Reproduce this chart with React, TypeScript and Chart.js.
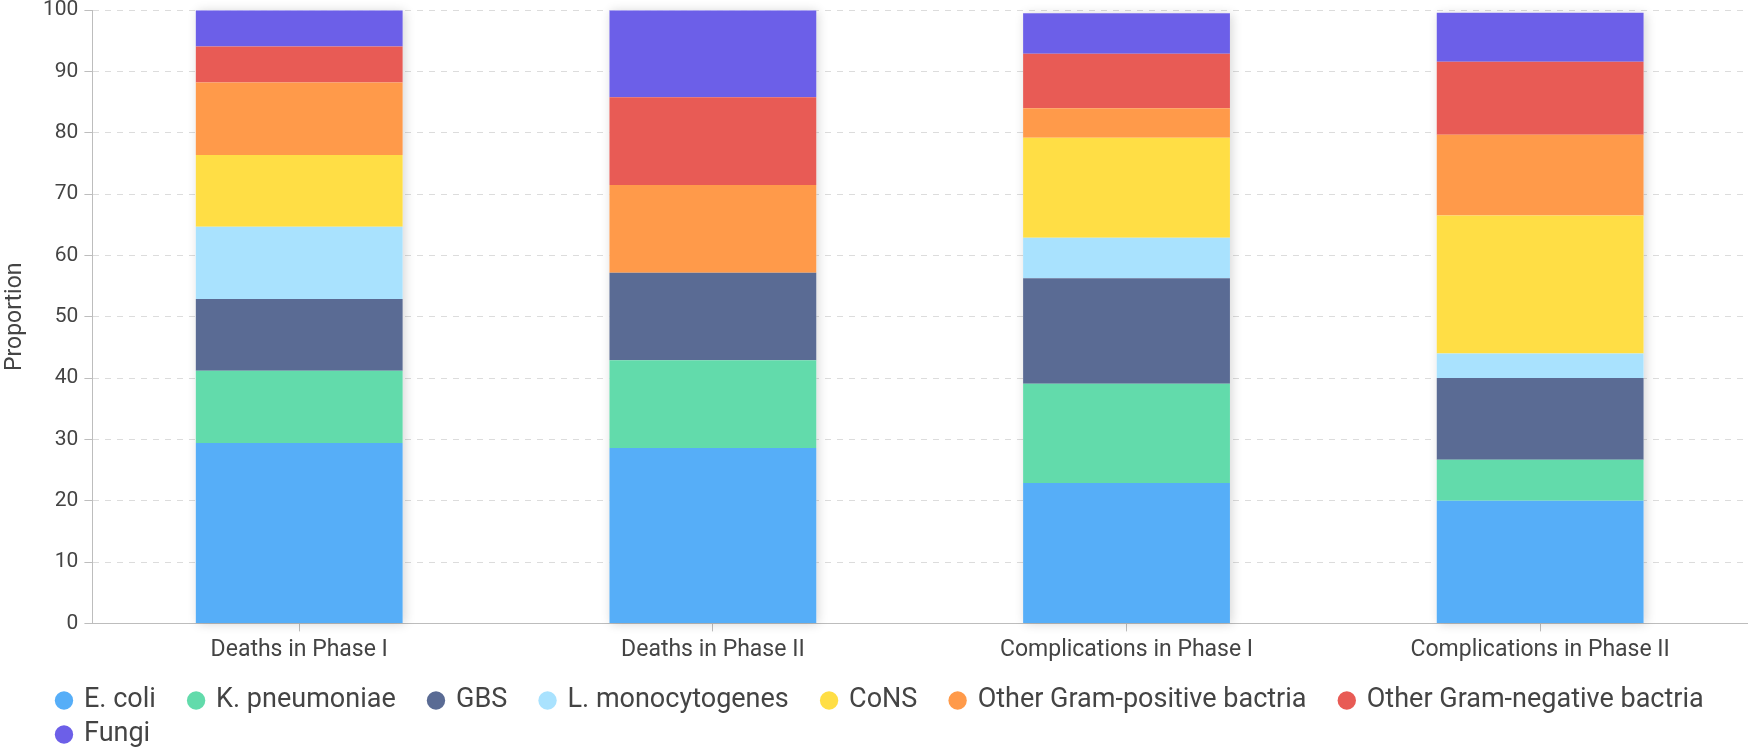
import { useEffect, useRef } from 'react';
import { Chart, registerables } from 'chart.js';

Chart.register(...registerables);

const FONT = 'Roboto, "Noto Sans", sans-serif';
const TEXT = '#444';
const AXIS = '#bdbdbd';

// categories and series (proportions, %)
const categories = ['Deaths in Phase I', 'Deaths in Phase II', 'Complications in Phase I', 'Complications in Phase II'];

const seriesNames = [
  'E. coli',
  'K. pneumoniae',
  'GBS',
  'L. monocytogenes',
  'CoNS',
  'Other Gram-positive bactria',
  'Other Gram-negative bactria',
  'Fungi',
];

const eColi = [29.4, 28.6, 22.9, 20.0];
const kPneumoniae = [11.8, 14.3, 16.2, 6.7];
const gbs = [11.7, 14.3, 17.2, 13.3];
const lMonocytogenes = [11.8, 0, 6.6, 4.0];
const cons = [11.7, 0, 16.3, 22.5];
const otherGramPos = [11.8, 14.3, 4.8, 13.2];
const otherGramNeg = [5.9, 14.3, 8.9, 11.9];
const fungi = [5.9, 14.2, 6.6, 8.0];

const seriesValues = [eColi, kPneumoniae, gbs, lMonocytogenes, cons, otherGramPos, otherGramNeg, fungi];

const seriesColors = ['#56aef8', '#62dbab', '#5a6b94', '#a9e2fe', '#ffde45', '#ff9a4a', '#e85b55', '#6c5fe8'];

const yTicks = [0, 10, 20, 30, 40, 50, 60, 70, 80, 90, 100];

// extra room after each legend label (legend padding also sets the row spacing)
const LEGEND_GAP = '    ';
const BOTTOM_PAD = 8;

// soft shadow behind each full stack
const stackShadow = {
  id: 'stackShadow',
  beforeDatasetsDraw(chart: any) {
    const metas = chart.getSortedVisibleDatasetMetas();
    if (!metas.length) return;
    const first = metas[0];
    const last = metas[metas.length - 1];
    const ctx = chart.ctx;
    ctx.save();
    ctx.shadowColor = 'rgba(0,0,0,0.16)';
    ctx.shadowBlur = 10;
    ctx.shadowOffsetX = 2;
    ctx.shadowOffsetY = 1;
    ctx.fillStyle = '#fff';
    first.data.forEach((bar: any, i: number) => {
      const { x, width, base } = bar.getProps(['x', 'width', 'base'], true);
      const top = last.data[i].getProps(['y'], true).y;
      ctx.fillRect(x - width / 2, top, width, base - top);
    });
    ctx.restore();
  },
};

// legend rows start a little in from the edge and sit at the very bottom
const legendPlace = {
  id: 'legendPlace',
  afterLayout(chart: any) {
    const lg = chart.legend;
    if (!lg) return;
    lg.left = 50.5;
    lg.top += BOTTOM_PAD + 3;
    lg.bottom += BOTTOM_PAD + 3;
  },
};

export default function App() {
  const canvasRef = useRef<HTMLCanvasElement>(null);

  useEffect(() => {
    document.body.style.margin = '0';
    if (!canvasRef.current) return;

    const chart = new Chart(canvasRef.current, {
      type: 'bar',
      data: {
        labels: categories,
        datasets: seriesNames.map((name, i) => ({
          label: name,
          data: seriesValues[i],
          backgroundColor: seriesColors[i],
          borderWidth: 0,
          categoryPercentage: 1,
          barPercentage: 0.5,
        })),
      },
      options: {
        animation: false,
        responsive: false,
        devicePixelRatio: 1,
        layout: { padding: { top: 0, right: 5, bottom: BOTTOM_PAD, left: 0 } },
        scales: {
          x: {
            stacked: true,
            grid: {
              display: true,
              drawOnChartArea: false,
              offset: false,
              tickLength: 8,
              tickColor: AXIS,
            },
            border: { display: true, color: AXIS, width: 1 },
            ticks: { color: TEXT, padding: 5, font: { size: 23, family: FONT } },
          },
          y: {
            stacked: true,
            min: 0,
            max: 100,
            afterBuildTicks: (scale: any) => {
              scale.ticks = yTicks.map((v) => ({ value: v }));
            },
            grid: {
              color: '#dcdcdc',
              lineWidth: 1,
              tickLength: 8,
              tickColor: AXIS,
              tickBorderDash: [],
            },
            border: { display: true, color: AXIS, width: 1, dash: [6, 6] },
            ticks: { color: TEXT, padding: 6, font: { size: 21, family: FONT, lineHeight: 0.4 } },
            title: {
              display: true,
              text: 'Proportion',
              color: TEXT,
              font: { size: 23, family: FONT, lineHeight: 1 },
              padding: { top: 4, bottom: 10 },
            },
          },
        },
        plugins: {
          legend: {
            position: 'bottom',
            align: 'start',
            labels: {
              usePointStyle: true,
              pointStyle: 'circle',
              boxWidth: 13,
              boxHeight: 13,
              padding: 7,
              color: TEXT,
              font: { size: 27, family: FONT },
              generateLabels: (c: any) =>
                Chart.defaults.plugins.legend.labels
                  .generateLabels(c)
                  .map((item: any) => ({ ...item, text: item.text + LEGEND_GAP })),
            },
          },
          tooltip: { enabled: false },
        },
      },
      plugins: [stackShadow, legendPlace],
    });

    return () => chart.destroy();
  }, []);

  return (
    <div style={{ width: 1752, height: 755 }}>
      <canvas ref={canvasRef} width={1752} height={755} />
    </div>
  );
}
